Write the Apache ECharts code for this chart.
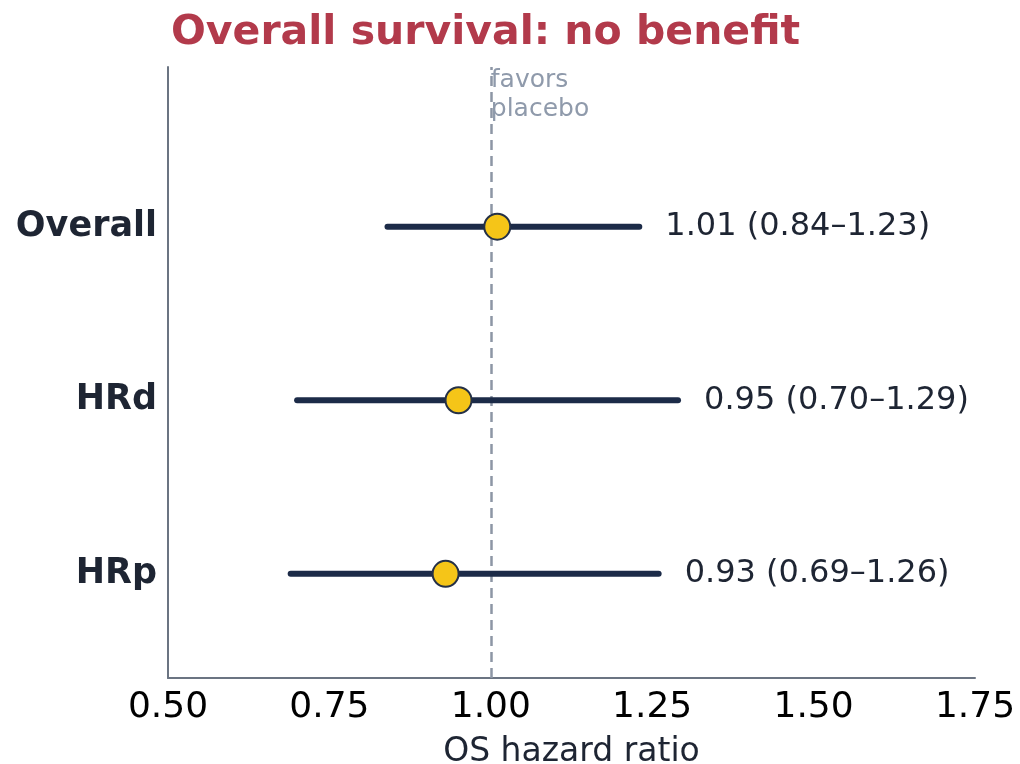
<!DOCTYPE html>
<html>
<head>
<meta charset="utf-8">
<script src="https://cdn.jsdelivr.net/npm/echarts@6/dist/echarts.min.js"></script>
<style>
  html, body { margin: 0; padding: 0; background: #ffffff; }
  #chart { width: 1020px; height: 764px; }
</style>
</head>
<body>
<div id="chart"></div>
<script>
// Forest plot rows, bottom to top on the y axis (y = 0, 1, 2)
const groups = ['HRp', 'HRd', 'Overall'];
const hazardRatio = [0.93, 0.95, 1.01];
const ciLower = [0.69, 0.70, 0.84];
const ciUpper = [1.26, 1.29, 1.23];
const xTicks = [0.5, 0.75, 1.0, 1.25, 1.5, 1.75];

const FONT = 'DejaVu Sans';
const NAVY = '#1c2b48';
const INK = '#1e2533';

const rows = groups.map((g, i) => [hazardRatio[i], i, ciLower[i], ciUpper[i]]);

const chart = echarts.init(document.getElementById('chart'), null, { renderer: 'canvas' });

const option = {
  backgroundColor: '#ffffff',
  animation: false,
  title: {
    text: 'Overall survival: no benefit',
    left: 166,
    top: 8,
    textStyle: { fontFamily: FONT, fontWeight: 'bold', fontSize: 41, color: '#b23a4b' }
  },
  grid: {
    left: 168, right: 45, top: 67, bottom: 86,
    containLabel: false,
    outerBoundsMode: 'none'
  },
  xAxis: {
    type: 'value',
    min: 0.5,
    max: 1.75,
    interval: 0.25,
    name: 'OS hazard ratio',
    nameLocation: 'middle',
    nameGap: 58,
    nameTextStyle: { fontFamily: FONT, fontSize: 33, color: INK },
    axisLine: { show: true, onZero: false, lineStyle: { color: '#6b7482', width: 2 } },
    axisTick: { show: false },
    splitLine: { show: false },
    axisLabel: {
      fontFamily: FONT, fontSize: 36, color: '#000000', margin: 12,
      customValues: xTicks,
      formatter: v => v.toFixed(2)
    }
  },
  yAxis: {
    type: 'value',
    min: -0.6,
    max: 2.92,
    axisLine: { show: true, onZero: false, lineStyle: { color: '#6b7482', width: 2 } },
    axisTick: { show: false },
    splitLine: { show: false },
    axisLabel: {
      customValues: [0, 1, 2],
      formatter: v => groups[Math.round(v)],
      fontFamily: FONT, fontWeight: 'bold', fontSize: 35, color: INK, margin: 11
    }
  },
  series: [
    {
      // confidence interval whiskers plus the value text to their right
      type: 'custom',
      data: rows,
      encode: { x: [0, 2, 3], y: 1 },
      z: 2,
      renderItem: function (params, api) {
        const y = api.value(1);
        const a = api.coord([api.value(2), y]);
        const b = api.coord([api.value(3), y]);
        const i = params.dataIndex;
        const txt = hazardRatio[i].toFixed(2) + ' (' + ciLower[i].toFixed(2) + '\u2013' + ciUpper[i].toFixed(2) + ')';
        return {
          type: 'group',
          children: [
            {
              type: 'line',
              shape: { x1: a[0], y1: a[1], x2: b[0], y2: b[1] },
              style: { stroke: NAVY, lineWidth: 6, lineCap: 'round' }
            },
            {
              type: 'text',
              x: b[0] + 26,
              y: b[1],
              style: {
                text: txt, fontFamily: FONT, fontSize: 32, fill: INK,
                verticalAlign: 'middle', align: 'left'
              }
            }
          ]
        };
      }
    },
    {
      type: 'scatter',
      data: rows.map(r => [r[0], r[1]]),
      symbol: 'circle',
      symbolSize: 26,
      z: 4,
      itemStyle: { color: '#f5c518', borderColor: '#243047', borderWidth: 2, opacity: 1 },
      markLine: {
        silent: true,
        symbol: 'none',
        label: { show: false },
        lineStyle: { color: '#8d96a5', type: [10, 6], width: 2.5 },
        data: [{ xAxis: 1.0 }],
        z: 1
      }
    }
  ]
};

chart.setOption(option);

// "favors placebo" note beside the reference line at HR = 1
const refX = chart.convertToPixel({ xAxisIndex: 0 }, 1.0);
const topY = chart.convertToPixel({ yAxisIndex: 0 }, 2.92);
chart.setOption({
  graphic: [{
    type: 'text',
    x: refX,
    y: topY - 1,
    z: 10,
    style: {
      text: 'favors\nplacebo',
      fontFamily: FONT, fontSize: 25, lineHeight: 29,
      fill: '#8f9aab', align: 'left', verticalAlign: 'top'
    }
  }]
});
</script>
</body>
</html>
